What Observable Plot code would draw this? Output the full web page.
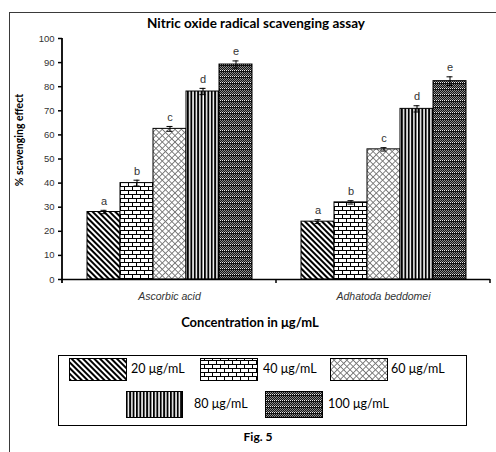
<!DOCTYPE html>
<html><head><meta charset="utf-8">
<script src="https://cdn.jsdelivr.net/npm/d3@7"></script>
<script src="https://cdn.jsdelivr.net/npm/@observablehq/plot@0.6"></script>
<style>
body{margin:0;background:#fff;}
#wrap{position:relative;width:496px;height:452px;overflow:hidden;background:#fff;}
#frame{position:absolute;left:9px;top:12px;width:500px;height:460px;border-left:1px solid #3a3a3a;border-top:1px solid #3a3a3a;}
.t{position:absolute;white-space:nowrap;font-family:Lato,"Open Sans",sans-serif;color:#000;}
#title{left:256px;top:15px;transform:translateX(-50%);font-weight:bold;font-size:13.5px;}
#ylab{left:19px;top:140px;transform:translate(-50%,-50%) rotate(-90deg);font-weight:bold;font-size:10.5px;}
#xlab{left:250px;top:314px;transform:translateX(-50%);font-weight:bold;font-size:13px;}
#fig{left:258px;top:429px;transform:translateX(-50%);font-weight:bold;font-size:12px;}
#chart{position:absolute;left:0;top:30px;}
#legend{position:absolute;left:0;top:0;}
</style></head>
<body><div id="wrap">
<svg width="0" height="0" style="position:absolute">
<defs>
<pattern id="p20" patternUnits="userSpaceOnUse" width="4" height="4" patternTransform="rotate(-45)">
<rect width="4" height="4" fill="#fff"/><rect x="0" y="0" width="2" height="4" fill="#000"/></pattern>
<pattern id="p40" patternUnits="userSpaceOnUse" width="8" height="8">
<rect width="8" height="8" fill="#fff"/>
<rect x="0" y="0" width="8" height="1" fill="#000"/><rect x="0" y="4" width="8" height="1" fill="#000"/>
<rect x="0" y="0" width="1" height="4" fill="#000"/><rect x="4" y="4" width="1" height="4" fill="#000"/></pattern>
<pattern id="p60" patternUnits="userSpaceOnUse" width="4.5" height="4.5" patternTransform="rotate(45)">
<rect width="4.5" height="4.5" fill="#fff"/>
<rect x="0" y="0" width="4.5" height="0.9" fill="#777"/><rect x="0" y="0" width="0.9" height="4.5" fill="#777"/></pattern>
<pattern id="p80" patternUnits="userSpaceOnUse" width="3.4" height="4">
<rect width="3.4" height="4" fill="#fff"/><rect x="0" y="0" width="1.9" height="4" fill="#000"/></pattern>
<pattern id="p100" patternUnits="userSpaceOnUse" width="2" height="6">
<rect width="2" height="6" fill="#111"/>
<rect x="0" y="0" width="1" height="1" fill="#8a8a8a"/><rect x="1" y="1" width="1" height="1" fill="#8a8a8a"/>
<rect x="0" y="2" width="1" height="1" fill="#8a8a8a"/><rect x="1" y="3" width="1" height="1" fill="#8a8a8a"/>
<rect x="0" y="4" width="1" height="1" fill="#eee"/></pattern>
</defs></svg>
<div id="frame"></div>
<div id="title" class="t">Nitric oxide radical scavenging assay</div>
<div id="ylab" class="t">% scavenging effect</div>
<div id="chart"></div>
<div id="xlab" class="t">Concentration in μg/mL</div>
<svg id="legend" width="496" height="452"></svg>
<div id="fig" class="t">Fig. 5</div>
</div>
<script>
// ---- data ----
const groups = ["Ascorbic acid", "Adhatoda beddomei"];
const concentrations = ["20 μg/mL", "40 μg/mL", "60 μg/mL", "80 μg/mL", "100 μg/mL"];
const ascorbicValues = [28, 40, 62.5, 78, 89.2];
const ascorbicErrors = [0.7, 1.2, 1.0, 1.3, 1.5];
const adhatodaValues = [24, 32, 54, 70.8, 82.3];
const adhatodaErrors = [0.8, 0.7, 0.7, 1.3, 1.8];
const letters = ["a", "b", "c", "d", "e"];
const yTicks = [0, 10, 20, 30, 40, 50, 60, 70, 80, 90, 100];
const patternIds = ["p20", "p40", "p60", "p80", "p100"];

const rows = [];
[ascorbicValues, adhatodaValues].forEach((vals, gi) => {
  const errs = gi === 0 ? ascorbicErrors : adhatodaErrors;
  vals.forEach((v, i) => rows.push({group: groups[gi], conc: concentrations[i], value: v, err: errs[i], letter: letters[i]}));
});

const plot = Plot.plot({
  width: 496, height: 280,
  marginTop: 8, marginBottom: 31, marginLeft: 62, marginRight: 6,
  style: {fontFamily: "'Liberation Sans', Arial, sans-serif", background: "transparent"},
  fx: {domain: groups, padding: 0, label: null},
  x: {domain: concentrations, paddingInner: 0, paddingOuter: 0.74, axis: null},
  y: {domain: [0, 100], axis: null},
  color: {type: "ordinal", domain: concentrations, range: patternIds.map(p => `url(#${p})`)},
  marks: [
    Plot.barY(rows, {fx: "group", x: "conc", y: "value", fill: "conc", stroke: "#000", strokeWidth: 1}),
    Plot.ruleX(rows, {fx: "group", x: "conc", y1: d => d.value - d.err, y2: d => d.value + d.err, stroke: "#000", strokeWidth: 1}),
    Plot.tickY(rows, {fx: "group", x: "conc", y: d => d.value + d.err, insetLeft: 13.5, insetRight: 13.5, stroke: "#000", strokeWidth: 1}),
    Plot.tickY(rows, {fx: "group", x: "conc", y: d => d.value - d.err, insetLeft: 13.5, insetRight: 13.5, stroke: "#000", strokeWidth: 1}),
    Plot.text(rows, {fx: "group", x: "conc", y: d => d.value + d.err, text: "letter", dy: -9, fontSize: 11, fill: "#333"}),
    Plot.ruleY([0], {stroke: "#000", strokeWidth: 1.5}),
    Plot.axisY({ticks: yTicks, tickSize: 4, tickPadding: 4, fontSize: 9.5, fill: "#333", stroke: "#000", strokeWidth: 1.5, label: null}),
    Plot.axisFx({anchor: "bottom", tickSize: 0, tickPadding: 13, fontSize: 10.5, fontStyle: "italic", fill: "#333", label: null})
  ]
});
document.getElementById("chart").appendChild(plot);

// axis lines and boundary ticks from the library scales
const fx = plot.scale("fx"), y = plot.scale("y");
const svg = d3.select(plot);
const x0 = fx.apply(groups[0]);
const y0 = y.apply(0), y100 = y.apply(100);
svg.append("line").attr("x1", x0).attr("x2", x0).attr("y1", y100).attr("y2", y0 + 4)
  .attr("stroke", "#000").attr("stroke-width", 1.8);
groups.forEach(g => {
  const xe = fx.apply(g) + fx.bandwidth;
  svg.append("line").attr("x1", xe).attr("x2", xe).attr("y1", y0).attr("y2", y0 + 4)
    .attr("stroke", "#000").attr("stroke-width", 1.5);
});

// legend
const lg = d3.select("#legend");
lg.append("rect").attr("x", 58.5).attr("y", 355.5).attr("width", 408).attr("height", 70)
  .attr("fill", "none").attr("stroke", "#000").attr("stroke-width", 1);
const legendSlots = [
  {sx: 69, sy: 358, w: 57, h: 22, tx: 131},
  {sx: 200, sy: 358, w: 57, h: 22, tx: 263},
  {sx: 330, sy: 358, w: 57, h: 22, tx: 391},
  {sx: 126, sy: 391, w: 56, h: 26, tx: 194},
  {sx: 265, sy: 391, w: 57, h: 26, tx: 328}
];
concentrations.forEach((c, i) => {
  const s = legendSlots[i];
  lg.append("rect").attr("x", s.sx + 0.5).attr("y", s.sy + 0.5).attr("width", s.w).attr("height", s.h)
    .attr("fill", `url(#${patternIds[i]})`).attr("stroke", "#000");
  lg.append("text").attr("x", s.tx).attr("y", s.sy + s.h / 2).attr("dy", "0.35em")
    .attr("font-family", "Lato, 'Open Sans', sans-serif").attr("font-size", 12.5).attr("fill", "#000").text(c);
});
</script>
</body></html>
